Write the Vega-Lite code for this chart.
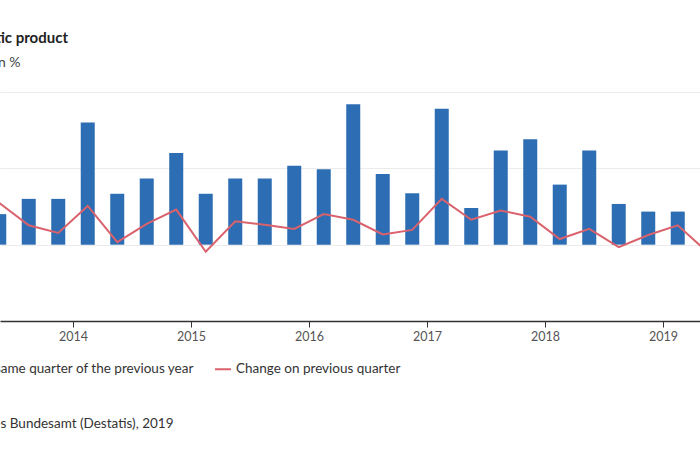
{
  "$schema": "https://vega.github.io/schema/vega-lite/v6.json",
  "width": 700,
  "height": 229,
  "autosize": {"type": "none"},
  "padding": {"top": 92, "left": 0, "right": 0, "bottom": 129},
  "background": "white",
  "config": {"font": "Lato", "view": {"stroke": null}},
  "title": {"text": "Gross domestic product", "anchor": "start", "frame": "group", "align": "right", "dx": 68, "fontSize": 15, "fontWeight": "bold", "color": "#222222", "offset": 9},
  "datasets": {
    "gdp": [
      {"t": 2013.375, "q": "2013 Q2", "yoy": 0.6, "qoq": 0.82},
      {"t": 2013.625, "q": "2013 Q3", "yoy": 0.9, "qoq": 0.38},
      {"t": 2013.875, "q": "2013 Q4", "yoy": 0.9, "qoq": 0.23},
      {"t": 2014.125, "q": "2014 Q1", "yoy": 2.4, "qoq": 0.76},
      {"t": 2014.375, "q": "2014 Q2", "yoy": 1.0, "qoq": 0.05},
      {"t": 2014.625, "q": "2014 Q3", "yoy": 1.3, "qoq": 0.41},
      {"t": 2014.875, "q": "2014 Q4", "yoy": 1.8, "qoq": 0.69},
      {"t": 2015.125, "q": "2015 Q1", "yoy": 1.0, "qoq": -0.14},
      {"t": 2015.375, "q": "2015 Q2", "yoy": 1.3, "qoq": 0.46},
      {"t": 2015.625, "q": "2015 Q3", "yoy": 1.3, "qoq": 0.39},
      {"t": 2015.875, "q": "2015 Q4", "yoy": 1.55, "qoq": 0.31},
      {"t": 2016.125, "q": "2016 Q1", "yoy": 1.48, "qoq": 0.6},
      {"t": 2016.375, "q": "2016 Q2", "yoy": 2.76, "qoq": 0.49},
      {"t": 2016.625, "q": "2016 Q3", "yoy": 1.39, "qoq": 0.2},
      {"t": 2016.875, "q": "2016 Q4", "yoy": 1.01, "qoq": 0.29},
      {"t": 2017.125, "q": "2017 Q1", "yoy": 2.67, "qoq": 0.9},
      {"t": 2017.375, "q": "2017 Q2", "yoy": 0.72, "qoq": 0.49},
      {"t": 2017.625, "q": "2017 Q3", "yoy": 1.85, "qoq": 0.67},
      {"t": 2017.875, "q": "2017 Q4", "yoy": 2.07, "qoq": 0.55},
      {"t": 2018.125, "q": "2018 Q1", "yoy": 1.18, "qoq": 0.11},
      {"t": 2018.375, "q": "2018 Q2", "yoy": 1.85, "qoq": 0.31},
      {"t": 2018.625, "q": "2018 Q3", "yoy": 0.8, "qoq": -0.05},
      {"t": 2018.875, "q": "2018 Q4", "yoy": 0.65, "qoq": 0.19},
      {"t": 2019.125, "q": "2019 Q1", "yoy": 0.65, "qoq": 0.38},
      {"t": 2019.375, "q": "2019 Q2", "yoy": null, "qoq": -0.14}
    ]
  },
  "data": {"name": "gdp"},
  "transform": [
    {"fold": ["yoy", "qoq"], "as": ["key", "v"]},
    {"filter": "datum.v != null"},
    {"calculate": "datum.key == 'yoy' ? 'Change on same quarter of the previous year' : 'Change on previous quarter'", "as": "series"}
  ],
  "encoding": {
    "x": {
      "field": "t", "type": "quantitative",
      "scale": {"domain": [2013.3814, 2019.3136], "nice": false, "zero": false, "padding": 0},
      "axis": {
        "values": [2014, 2015, 2016, 2017, 2018, 2019], "format": "d",
        "grid": false, "labelFontSize": 12.5, "labelColor": "#555555", "labelPadding": 3,
        "tickColor": "#333333", "tickSize": 6, "domainColor": "#333333", "domainWidth": 1.5,
        "title": "Source: Statistisches Bundesamt (Destatis), 2019",
        "titleAlign": "right", "titleAnchor": null, "titleX": 173, "titleY": 102, "titleBaseline": "middle",
        "titleFontSize": 13.5, "titleFontWeight": "normal", "titleColor": "#333333"
      }
    },
    "y": {
      "field": "v", "type": "quantitative",
      "scale": {"domain": [-1.5, 3], "nice": false},
      "axis": {
        "values": [-1.5, 0, 1.5, 3], "labels": false, "ticks": false, "domain": false,
        "grid": true, "gridColor": "#ebebeb",
        "title": "Change in %", "titleAngle": 0, "titleAlign": "right", "titleX": 20, "titleY": -30,
        "titleBaseline": "middle", "titleFontSize": 14, "titleFontWeight": "normal", "titleColor": "#444444"
      }
    },
    "color": {
      "field": "series", "type": "nominal",
      "scale": {"domain": ["Change on same quarter of the previous year", "Change on previous quarter"], "range": ["#2c6db3", "#d9626c"]},
      "legend": {
        "orient": "none", "legendX": -94, "legendY": 268, "direction": "horizontal", "title": null,
        "symbolType": "stroke", "symbolStrokeWidth": 2, "symbolSize": 256, "labelFontSize": 13.5,
        "labelColor": "#333333", "columnPadding": 16, "labelOffset": 4, "labelLimit": 400
      }
    }
  },
  "layer": [
    {"transform": [{"filter": "datum.key == 'yoy'"}], "mark": {"type": "bar", "width": 14, "clip": true}},
    {"transform": [{"filter": "datum.key == 'qoq'"}], "mark": {"type": "line", "strokeWidth": 2, "clip": true}}
  ]
}
